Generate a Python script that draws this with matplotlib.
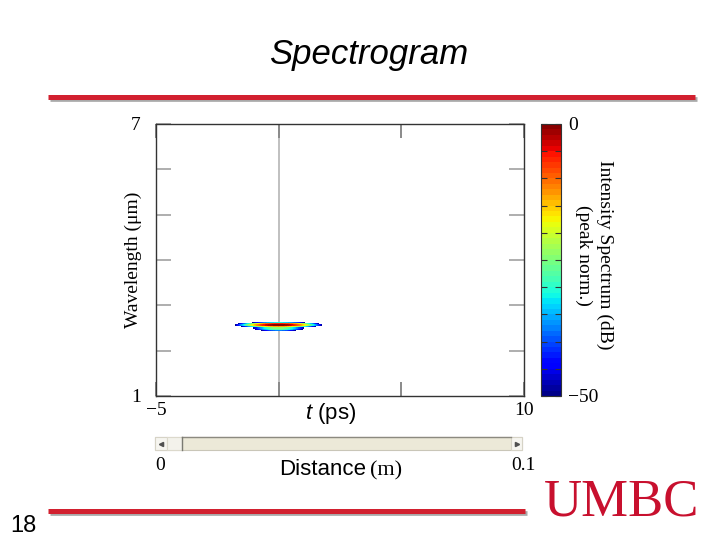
import numpy as np
import matplotlib
matplotlib.use('Agg')
import matplotlib.pyplot as plt
from matplotlib.patches import Rectangle

plt.rcParams['font.family'] = ['Liberation Serif', 'DejaVu Serif']
plt.rcParams['mathtext.fontset'] = 'custom'
plt.rcParams['mathtext.it'] = 'Liberation Sans:italic'
plt.rcParams['mathtext.rm'] = 'Liberation Sans'

# ---------------- data ----------------
t_range = (-5, 10)
wl_range = (1, 7)
x_ticks = [-5, 0, 5, 10]
x_ticklabels = ['\u22125', '', '', '10']
y_ticks = [1, 2, 3, 4, 5, 6, 7]
y_ticklabels = ['1', '', '', '', '', '', '7']
cbar_range = (-50, 0)
cbar_ticks = list(range(-50, 1, 5))
cbar_ticklabels = ['\u221250'] + [''] * 9 + ['0']
distance_labels = ['0', '0.1']
slide_title = 'Spectrogram'
slide_number = '18'

# pulse parameters
pulse_t0 = 0.0        # ps
pulse_wl0 = 2.57      # um
pulse_tau = 0.52      # ps
pulse_dwl = 0.015     # um
tail_level_db = -24.0
tail_shift = -0.07    # um
tail_dwl = 0.025      # um
tail_tau = 0.42       # ps

t_grid = np.linspace(-3, 3, 721)
wl_grid = np.linspace(2.3, 2.8, 801)
T, W = np.meshgrid(t_grid, wl_grid)
main = np.exp(-((T - pulse_t0) / pulse_tau) ** 2 - ((W - pulse_wl0) / pulse_dwl) ** 2)
tail = 10 ** (tail_level_db / 10) * np.exp(-((T - pulse_t0) / tail_tau) ** 2
                                           - ((W - pulse_wl0 - tail_shift) / tail_dwl) ** 2)
S_db = 10 * np.log10(main + tail + 1e-30)

# ---------------- figure ----------------
fig = plt.figure(figsize=(7.2, 5.4), dpi=100)

bg = fig.add_axes([0, 0, 1, 1], zorder=0)
bg.set_xlim(0, 720)
bg.set_ylim(540, 0)
bg.axis('off')

red = '#d2202f'
# title rule
bg.plot([50, 697], [98.8, 98.8], color='#a9a9a9', lw=3.4, solid_capstyle='butt')
bg.plot([48, 695], [96.5, 96.5], color=red, lw=3.6, solid_capstyle='butt')
# bottom rule
bg.plot([50, 527], [513.3, 513.3], color='#a9a9a9', lw=3.4, solid_capstyle='butt')
bg.plot([48, 525], [511, 511], color=red, lw=3.6, solid_capstyle='butt')

# scrollbar
bg.add_patch(Rectangle((155, 437), 367, 13, fc='#ece9d8', ec='#c9c6b8', lw=0.8))
bg.plot([182, 511], [437.3, 437.3], color='#8c8a80', lw=1.0)
bg.add_patch(Rectangle((155, 437), 12, 13, fc='#f6f5f0', ec='#d6d3c6', lw=0.8))
bg.add_patch(Rectangle((167, 437), 15, 13, fc='#f3f2eb', ec='#dcd9cc', lw=0.8))
bg.plot([182, 182], [437, 450], color='#7a7a72', lw=1.0)
bg.add_patch(Rectangle((511, 437), 11, 13, fc='#f6f5f0', ec='#d6d3c6', lw=0.8))
bg.plot([160.5], [443.5], marker='<', ms=3, color='#505050')
bg.plot([516.5], [443.5], marker='>', ms=3, color='#505050')

# main axes
ax = fig.add_axes([156 / 720, 1 - 396 / 540, 368 / 720, 272 / 540], zorder=2)
levels = np.linspace(cbar_range[0], cbar_range[1], 51)
cs = ax.contourf(T, W, S_db, levels=levels, cmap='jet', zorder=2)
ax.axvline(0, color='#c0c0c0', lw=1.4, zorder=1)
ax.set_xlim(*t_range)
ax.set_ylim(*wl_range)
ax.set_xticks(x_ticks)
ax.set_xticklabels(x_ticklabels)
ax.set_yticks(y_ticks)
ax.set_yticklabels(y_ticklabels)
ax.tick_params(axis='x', direction='in', length=10, width=1.4, color='#8a8a8a',
               top=True, pad=4, labelsize=14)
ax.tick_params(axis='y', direction='in', length=11, width=1.3, color='#a8a8a8',
               right=True, pad=11, labelsize=14)
for s in ax.spines.values():
    s.set_color('#333333')
    s.set_linewidth(1.0)

ax.set_xlabel(r'$t$ (ps)', family='Liberation Sans', fontsize=16)
ax.xaxis.set_label_coords((331 - 156) / 368, (396 - 419) / 272)
ax.xaxis.label.set_va('baseline')
ax.set_ylabel('Wavelength (\u03bcm)', fontsize=14)
ax.yaxis.set_label_coords((133 - 156) / 368, (396 - 260) / 272)
ax.yaxis.label.set_va('center')

# colorbar
cax = fig.add_axes([541 / 720, 1 - 396 / 540, 20 / 720, 272 / 540], zorder=2)
cb = fig.colorbar(cs, cax=cax, ticks=cbar_ticks)
cb.set_ticklabels(cbar_ticklabels)
cax.tick_params(direction='in', length=4, width=0.8, color='#333333',
                left=True, right=True, labelsize=14, pad=5)
cb.outline.set_edgecolor('#333333')
cb.outline.set_linewidth(0.8)
cb.set_label('Intensity Spectrum (dB)\n(peak norm.)', rotation=270, fontsize=14,
             linespacing=1.3)
cax.yaxis.set_label_coords((594 - 541) / 20, (396 - 255) / 272)
cax.yaxis.label.set_va('center')
cax.yaxis.label.set_ha('center')

# slide texts
def fx(x):
    return x / 720

def fy(y):
    return 1 - y / 540

fig.text(fx(369), fy(64), slide_title, ha='center', va='baseline',
         family='Liberation Sans', style='italic', fontsize=25)
fig.text(fx(160), fy(470), distance_labels[0], ha='center', va='baseline', fontsize=14)
fig.text(fx(523), fy(470), distance_labels[1], ha='center', va='baseline', fontsize=14)
fig.text(fx(366), fy(475), 'Distance', ha='right', va='baseline',
         family='Liberation Sans', fontsize=16)
fig.text(fx(370), fy(475), '(m)', ha='left', va='baseline', fontsize=16)
fig.text(fx(23), fy(532), slide_number, ha='center', va='baseline',
         family='Liberation Sans', fontsize=17)
fig.text(fx(622), fy(515), 'UMBC', ha='center', va='baseline',
         color='#c8102e', fontsize=38)

fig.savefig('out.png', dpi=100)
